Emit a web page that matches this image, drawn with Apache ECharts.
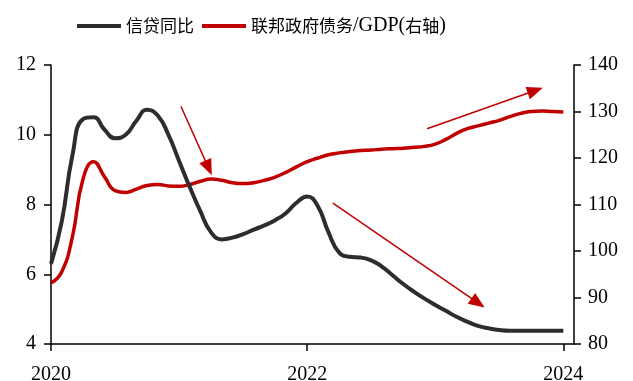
<!DOCTYPE html>
<html>
<head>
<meta charset="utf-8">
<script src="https://cdn.jsdelivr.net/npm/echarts@6/dist/echarts.min.js"></script>
<style>
  html, body { margin: 0; padding: 0; background: #fff; }
  #chart { width: 633px; height: 381px; }
</style>
</head>
<body>
<div id="chart"></div>
<script>
// Monthly series, starting January 2020
const startYear = 2020;
const seriesNames = ['信贷同比', '联邦政府债务/GDP(右轴)'];

// 信贷同比 (left axis, %)
const creditGrowth = [
  6.3, 7.5, 9.4, 10.45, 10.5, 10.15, 9.9, 10.0, 10.4, 10.72, 10.55, 10.0,
  9.25, 8.5, 7.8, 7.2, 7.0, 7.05, 7.15, 7.28, 7.4, 7.55, 7.75, 8.05,
  8.23, 7.95, 7.2, 6.62, 6.5, 6.48, 6.4, 6.22, 5.97, 5.72, 5.5, 5.3,
  5.12, 4.95, 4.78, 4.64, 4.52, 4.45, 4.4, 4.38, 4.38, 4.38, 4.38, 4.38,
  4.38
];

// 联邦政府债务/GDP (right axis, %)
const debtToGdp = [
  93.1, 95.5, 103.0, 115.5, 119.2, 116.0, 113.0, 112.6, 113.3, 114.1, 114.3, 114.0,
  113.9, 114.3, 115.0, 115.5, 115.2, 114.7, 114.5, 114.7, 115.2, 115.9, 116.9, 118.1,
  119.2, 120.0, 120.7, 121.1, 121.4, 121.6, 121.7, 121.9, 122.0, 122.1, 122.3, 122.5,
  123.0, 124.0, 125.3, 126.3, 126.9, 127.5, 128.1, 128.9, 129.6, 130.0, 130.1, 130.0,
  129.9
];

// Axis ticks
const xTickYears = [2020, 2022, 2024];
const leftAxisRange = [4, 12, 2];
const rightAxisRange = [80, 140, 10];

// Trend arrows, in [year, left-axis value] coordinates
const trendArrows = [
  [[2021.015, 10.81], [2021.23, 9.05]],
  [[2022.201, 8.04], [2023.334, 5.18]],
  [[2022.936, 10.17], [2023.781, 11.27]]
];

const toPoints = vals => vals.map((v, i) => [startYear + i / 12, v]);

const RED = '#c00000';
const DARK = '#2d2d2d';
const SERIF = '"Liberation Serif", "Times New Roman", serif';
const CJK = '"Noto Sans CJK SC", sans-serif';

const chart = echarts.init(document.getElementById('chart'), null, { renderer: 'canvas' });

const axisCommon = {
  axisLine: { show: true, lineStyle: { color: '#000', width: 1.5 } },
  axisTick: { show: true, length: 7, lineStyle: { color: '#000', width: 1.5 } },
  splitLine: { show: false },
  axisLabel: { color: '#000', fontFamily: SERIF, fontSize: 20 }
};

// Legend text: CJK in sans, Latin in serif
const legendLabel = name => name
  .replace('/GDP(', '{l|/GDP(}')
  .replace(/\)$/, '{l|)}')
  .replace(/^([^{]+)\{/, '{c|$1}{')
  .replace(/\}([^{}]+)\{l\|\)\}$/, '}{c|$1}{l|)}');

chart.setOption({
  animation: false,
  backgroundColor: '#fff',
  legend: {
    left: 72,
    top: 11,
    itemWidth: 44,
    itemHeight: 4,
    itemGap: 8,
    icon: 'rect',
    formatter: name => name.indexOf('/GDP') >= 0 ? legendLabel(name) : '{c|' + name + '}',
    textStyle: {
      color: '#000',
      fontFamily: CJK,
      fontSize: 17,
      rich: {
        c: { fontFamily: CJK, fontSize: 17, color: '#000' },
        l: { fontFamily: SERIF, fontSize: 20, color: '#000' }
      }
    },
    data: seriesNames
  },
  grid: { left: 51, right: 59, top: 65, bottom: 37, containLabel: false, outerBoundsMode: 'none' },
  xAxis: {
    type: 'value',
    min: startYear,
    max: startYear + 49 / 12,
    ...axisCommon,
    axisLine: { show: true, onZero: false, lineStyle: { color: '#000', width: 1.5 } },
    axisTick: { show: true, length: 7, customValues: xTickYears, lineStyle: { color: '#000', width: 1.5 } },
    axisLabel: { ...axisCommon.axisLabel, margin: 21, customValues: xTickYears, formatter: v => String(Math.round(v)) }
  },
  yAxis: [
    {
      type: 'value',
      position: 'left',
      min: leftAxisRange[0], max: leftAxisRange[1], interval: leftAxisRange[2],
      ...axisCommon,
      axisLabel: { ...axisCommon.axisLabel, margin: 15 }
    },
    {
      type: 'value',
      position: 'right',
      min: rightAxisRange[0], max: rightAxisRange[1], interval: rightAxisRange[2],
      ...axisCommon,
      axisLabel: { ...axisCommon.axisLabel, margin: 14 }
    }
  ],
  series: [
    {
      name: seriesNames[0],
      type: 'line',
      yAxisIndex: 0,
      data: toPoints(creditGrowth),
      showSymbol: false,
      smooth: 0.5,
      itemStyle: { color: DARK },
      lineStyle: { color: DARK, width: 4 },
      z: 3,
      markLine: {
        silent: true,
        animation: false,
        symbol: ['none', 'triangle'],
        symbolSize: [13, 16],
        label: { show: false },
        lineStyle: { color: RED, width: 1.5, type: 'solid' },
        itemStyle: { color: RED },
        emphasis: { disabled: true },
        data: trendArrows.map(([a, b]) => [{ coord: a }, { coord: b }])
      }
    },
    {
      name: seriesNames[1],
      type: 'line',
      yAxisIndex: 1,
      data: toPoints(debtToGdp),
      showSymbol: false,
      smooth: 0.5,
      itemStyle: { color: RED },
      lineStyle: { color: RED, width: 3.5 },
      z: 2
    }
  ]
});
</script>
</body>
</html>
